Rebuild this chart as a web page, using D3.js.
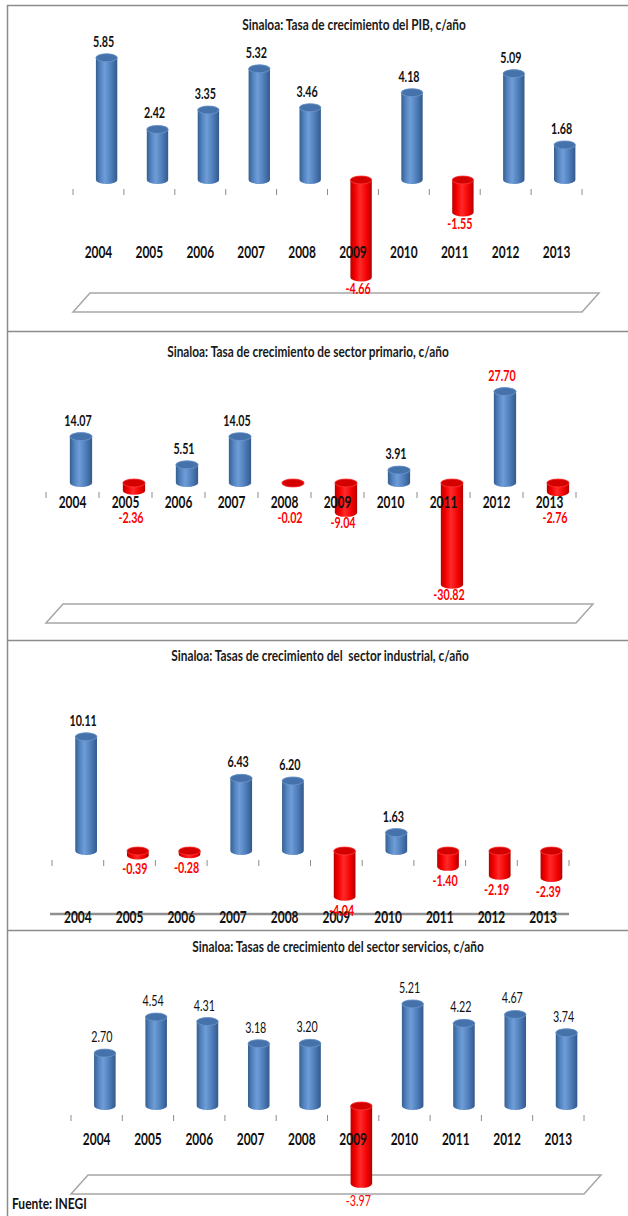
<!DOCTYPE html>
<html>
<head>
<meta charset="utf-8">
<script src="https://cdn.jsdelivr.net/npm/d3@7"></script>
<style>
    html, body { margin: 0; padding: 0; background: #fff; }
    svg { display: block; }
    text { font-family: Lato, "Open Sans", sans-serif; white-space: pre; }
</style>
</head>
<body>
<div id="chart"></div>
<script>
// Data
const years = ["2004", "2005", "2006", "2007", "2008", "2009", "2010", "2011", "2012", "2013"];
const pibValues = [5.85, 2.42, 3.35, 5.32, 3.46, -4.66, 4.18, -1.55, 5.09, 1.68];
const primarioValues = [14.07, -2.36, 5.51, 14.05, -0.02, -9.04, 3.91, -30.82, 27.70, -2.76];
const industrialValues = [10.11, -0.39, -0.28, 6.43, 6.20, -4.04, 1.63, -1.40, -2.19, -2.39];
const serviciosValues = [2.70, 4.54, 4.31, 3.18, 3.20, -3.97, 5.21, 4.22, 4.67, 3.74];
const chartTitles = [
    "Sinaloa: Tasa de crecimiento del PIB, c/año",
    "Sinaloa: Tasa de crecimiento de sector primario, c/año",
    "Sinaloa: Tasas de crecimiento del  sector industrial, c/año",
    "Sinaloa: Tasas de crecimiento del sector servicios, c/año"
];
const sourceNote = "Fuente: INEGI";

const W = 628, H = 1216;

const svg = d3.select("#chart").append("svg")
    .attr("width", W)
    .attr("height", H);

// gradients for the cylinders
const defs = svg.append("defs");
function addGradient(id, stops) {
    const g = defs.append("linearGradient").attr("id", id)
        .attr("x1", "0%").attr("x2", "100%").attr("y1", "0%").attr("y2", "0%");
    stops.forEach(s => g.append("stop").attr("offset", s[0]).attr("stop-color", s[1]));
}
addGradient("blueBody", [["0%", "#35608f"], ["22%", "#5586c4"], ["42%", "#6f9dd6"], ["70%", "#4f7fbd"], ["100%", "#33598a"]]);
addGradient("redBody", [["0%", "#b80000"], ["22%", "#f80000"], ["45%", "#ff2a2a"], ["78%", "#f20000"], ["100%", "#b00000"]]);

// make text narrow like the original condensed face
function condense(selection, factor) {
    selection.each(function() {
        const w = this.getComputedTextLength();
        d3.select(this).attr("textLength", w * factor).attr("lengthAdjust", "spacingAndGlyphs");
    });
}

function cylinderPath(cx, w, yTop, yBot, ry) {
    const rx = w / 2;
    return `M${cx - rx},${yTop} L${cx - rx},${yBot} A${rx},${ry} 0 0 0 ${cx + rx},${yBot} ` +
        `L${cx + rx},${yTop} A${rx},${ry} 0 0 0 ${cx - rx},${yTop}Z`;
}

class GrowthChart {
    constructor(parent, config) {
        this.parent = parent;
        this.config = config;
        this.initVis();
    }

    initVis() {
        let vis = this;
        const c = vis.config;

        vis.g = vis.parent.append("g").attr("class", "panel");

        // panel frame line on top
        vis.g.append("line")
            .attr("x1", 7).attr("x2", W)
            .attr("y1", c.top + 0.5).attr("y2", c.top + 0.5)
            .attr("stroke", "#8c8c8c")
            .attr("stroke-width", 1.5);

        // title
        vis.g.append("text")
            .attr("x", c.titleX)
            .attr("y", c.titleY)
            .attr("text-anchor", "middle")
            .style("font-size", "16px")
            .style("font-weight", "bold")
            .attr("fill", "#1a1a1a")
            .text(c.title)
            .call(condense, 0.74);

        // scales
        vis.x = d3.scaleBand()
            .domain(years)
            .range(c.xRange);

        const lo = Math.min(0, d3.min(c.values));
        const hi = Math.max(0, d3.max(c.values));
        vis.y = d3.scaleLinear()
            .domain([lo, hi])
            .range([c.zeroY - lo * c.unit, c.zeroY - hi * c.unit]);

        vis.updateVis();
    }

    updateVis() {
        let vis = this;
        const c = vis.config;
        const bw = vis.x.bandwidth();
        const barW = bw * 0.42;
        const shift = bw * 0.16;
        const ry = 4;
        const rows = years.map((yr, i) => ({year: yr, value: c.values[i]}));

        // floor
        const [x0, x1] = vis.x.range();
        if (c.floorY !== null) {
            const depth = 17, fh = 19;
            vis.g.append("path")
                .attr("d", `M${x0},${c.floorY + fh} L${x0 + depth},${c.floorY} L${x1 + depth},${c.floorY} L${x1},${c.floorY + fh}Z`)
                .attr("fill", "#fff")
                .attr("stroke", "#a6a6a6")
                .attr("stroke-width", 1.5);
        } else {
            vis.g.append("line")
                .attr("x1", x0 - 2).attr("x2", x1)
                .attr("y1", c.floorLine).attr("y2", c.floorLine)
                .attr("stroke", "#8f8f8f")
                .attr("stroke-width", 2.5);
        }

        // tick marks on the category boundaries
        vis.g.selectAll(".tick-mark")
            .data(years.concat(["end"]))
            .join("line")
            .attr("class", "tick-mark")
            .attr("x1", d => d === "end" ? x1 : vis.x(d))
            .attr("x2", d => d === "end" ? x1 : vis.x(d))
            .attr("y1", c.tickY)
            .attr("y2", c.tickY + 6)
            .attr("stroke", "#8c8c8c")
            .attr("stroke-width", 1);

        // cylinders
        const cx = d => vis.x(d.year) + bw / 2 + shift;
        const top = d => d.value >= 0 ? vis.y(d.value) : vis.y(0);
        const bot = d => d.value >= 0 ? vis.y(0) : vis.y(d.value);

        const bars = vis.g.selectAll(".bar")
            .data(rows)
            .join("g")
            .attr("class", "bar");

        bars.append("path")
            .attr("d", d => cylinderPath(cx(d), barW, top(d), bot(d), ry))
            .attr("fill", d => d.value >= 0 ? "url(#blueBody)" : "url(#redBody)");

        bars.append("ellipse")
            .attr("cx", cx)
            .attr("cy", top)
            .attr("rx", barW / 2)
            .attr("ry", ry)
            .attr("fill", d => d.value >= 0 ? "#4572aa" : "#d40000")
            .attr("stroke", d => d.value >= 0 ? "#6f98cc" : "#ff3a3a")
            .attr("stroke-width", 0.8);

        // year labels drawn over the bars
        const axis = d3.axisBottom(vis.x).tickSize(0).tickPadding(0);
        const axisG = vis.g.append("g")
            .attr("transform", `translate(0,${c.yearY})`)
            .call(axis);
        axisG.select(".domain").remove();
        axisG.selectAll("text")
            .attr("y", 0)
            .attr("dy", 0)
            .attr("fill", "#111")
            .style("font-family", "Lato, sans-serif")
            .style("font-size", "17px")
            .style("font-weight", "bold")
            .call(condense, 0.7);

        // value labels: above positive bars, below negative ones
        const negY = d => Math.max(vis.y(d.value) + c.negGap, c.negMin || 0);
        vis.g.selectAll(".value-label")
            .data(rows)
            .join("text")
            .attr("class", "value-label")
            .attr("x", d => cx(d) - 3)
            .attr("y", d => d.value >= 0 ? vis.y(d.value) - 11 : negY(d))
            .attr("text-anchor", "middle")
            .style("font-size", "16px")
            .style("font-weight", c.labelWeight)
            .attr("fill", d => (d.value < 0 || c.redLabels.includes(d.year)) ? "#ff0000" : "#111")
            .text(d => d.value.toFixed(2))
            .call(condense, 0.67);
    }
}

const layouts = [
    {top: 5, titleX: 354, titleY: 30, xRange: [73, 582], zeroY: 180, unit: 20.9,
        tickY: 189, yearY: 258, floorY: 293, negGap: 17, labelWeight: "bold", redLabels: []},
    {top: 331, titleX: 308, titleY: 357, xRange: [46, 576], zeroY: 483, unit: 3.3,
        tickY: 492, yearY: 508, floorY: 604, negGap: 15, negMin: 523, labelWeight: "bold", redLabels: ["2012"]},
    {top: 640, titleX: 320, titleY: 661, xRange: [52, 569], zeroY: 851, unit: 11.3,
        tickY: 860, yearY: 923, floorY: null, floorLine: 914, negGap: 19, labelWeight: "bold", redLabels: []},
    {top: 930, titleX: 338, titleY: 952, xRange: [71, 584], zeroY: 1106, unit: 19.6,
        tickY: 1115, yearY: 1145, floorY: 1175, negGap: 22, labelWeight: "normal", redLabels: []}
];
const seriesList = [pibValues, primarioValues, industrialValues, serviciosValues];

layouts.forEach((lay, i) => {
    new GrowthChart(svg, Object.assign({title: chartTitles[i], values: seriesList[i]}, lay));
});

// left frame line
svg.append("line")
    .attr("x1", 7.5).attr("x2", 7.5)
    .attr("y1", 5).attr("y2", H)
    .attr("stroke", "#8c8c8c")
    .attr("stroke-width", 1.5);

// source
svg.append("text")
    .attr("x", 12)
    .attr("y", 1209)
    .style("font-size", "16px")
    .style("font-weight", "bold")
    .attr("fill", "#111")
    .text(sourceNote)
    .call(condense, 0.75);
</script>
</body>
</html>
